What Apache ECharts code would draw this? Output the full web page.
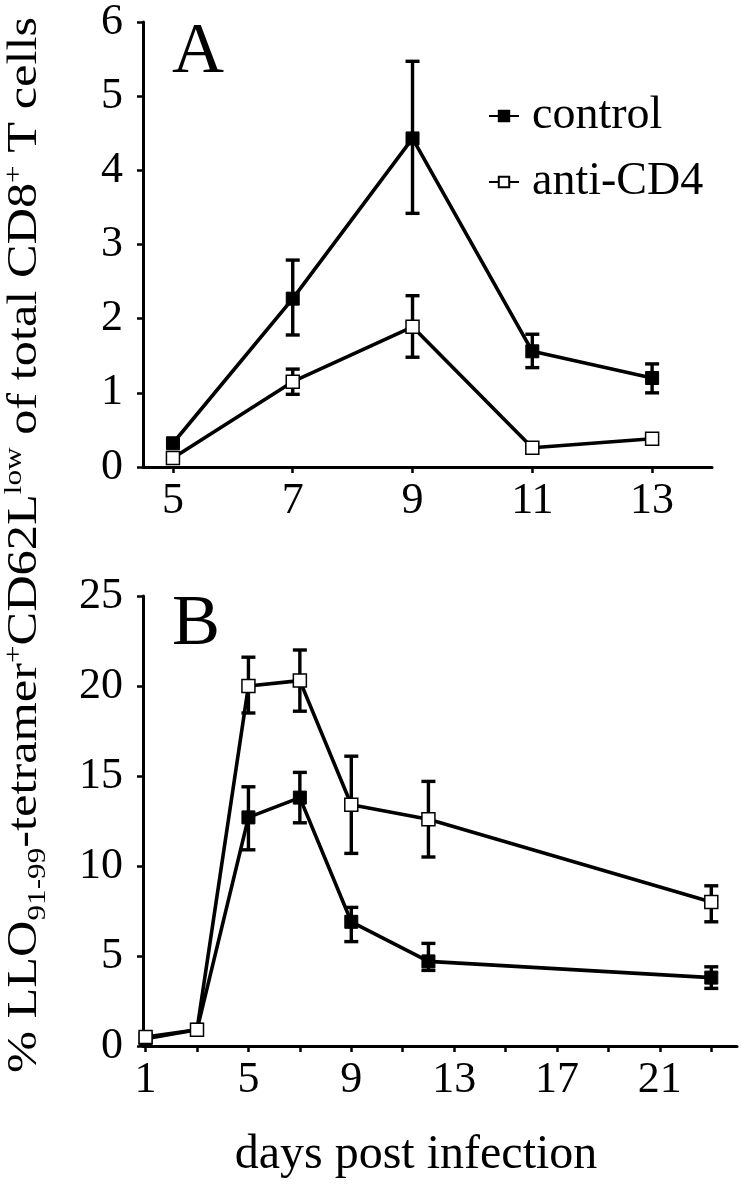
<!DOCTYPE html>
<html>
<head>
<meta charset="utf-8">
<script src="https://cdn.jsdelivr.net/npm/echarts@6/dist/echarts.min.js"></script>
<style>
html,body{margin:0;padding:0;background:#fff;}
#chart{width:742px;height:1200px;}
</style>
</head>
<body>
<div id="chart"></div>
<script>
// ---------- Panel A data ----------
const daysA = [5, 7, 9, 11, 13];
const controlA = [0.32, 2.27, 4.43, 1.56, 1.20];
const controlA_low = [0.32, 1.78, 3.42, 1.34, 1.00];
const controlA_high = [0.32, 2.79, 5.47, 1.79, 1.39];
const antiA = [0.12, 1.15, 1.89, 0.26, 0.38];
const antiA_low = [0.12, 0.98, 1.48, 0.26, 0.38];
const antiA_high = [0.12, 1.32, 2.31, 0.26, 0.38];
const xTicksA = [5, 7, 9, 11, 13];

// ---------- Panel B data ----------
const daysB = [1, 3, 5, 7, 9, 12, 23];
const controlB = [0.4, 0.9, 12.7, 13.8, 6.9, 4.7, 3.8];
const controlB_low = [0.4, 0.9, 10.9, 12.4, 5.8, 4.2, 3.2];
const controlB_high = [0.4, 0.9, 14.4, 15.2, 7.7, 5.7, 4.4];
const antiB = [0.5, 0.9, 20.0, 20.3, 13.4, 12.6, 8.0];
const antiB_low = [0.5, 0.9, 18.5, 18.6, 10.7, 10.5, 6.9];
const antiB_high = [0.5, 0.9, 21.6, 22.0, 16.1, 14.7, 8.9];
const xTicksB = [1, 3, 5, 7, 9, 11, 13, 15, 17, 19, 21, 23];
const xLabelsB = [1, 5, 9, 13, 17, 21];

const seriesNames = ['control', 'anti-CD4'];
const xTitle = 'days post infection';
const panelLetters = ['A', 'B'];

const FONT = '"Liberation Serif", "Times New Roman", serif';

function pairs(x, y) { return x.map((d, i) => [d, y[i]]); }
function triples(x, lo, hi) { return x.map((d, i) => [d, lo[i], hi[i]]); }

function errRender(params, api) {
  const x = api.value(0), lo = api.value(1), hi = api.value(2);
  if (hi - lo < 1e-9) return null;
  const p1 = api.coord([x, lo]), p2 = api.coord([x, hi]);
  const w = 7;
  const st = { stroke: '#000', lineWidth: 3.4 };
  return {
    type: 'group',
    children: [
      { type: 'line', shape: { x1: p1[0], y1: p1[1], x2: p2[0], y2: p2[1] }, style: st },
      { type: 'line', shape: { x1: p1[0] - w, y1: p1[1], x2: p1[0] + w, y2: p1[1] }, style: st },
      { type: 'line', shape: { x1: p2[0] - w, y1: p2[1], x2: p2[0] + w, y2: p2[1] }, style: st }
    ]
  };
}

const axisLine = { show: true, lineStyle: { color: '#000', width: 3 } };
const labelStyle = { color: '#000', fontFamily: FONT, fontSize: 44 };

function lineSeries(name, data, idx, filled) {
  return {
    name: name, type: 'line', data: data,
    xAxisIndex: idx, yAxisIndex: idx,
    symbol: 'rect', symbolSize: 13, showSymbol: true,
    lineStyle: { color: '#000', width: 3.6 },
    itemStyle: filled ? { color: '#000', borderColor: '#000', borderWidth: 1 }
                      : { color: '#fff', borderColor: '#000', borderWidth: 1.5 },
    emphasis: { disabled: true },
    animation: false, z: 3
  };
}
function errSeries(data, idx) {
  return {
    type: 'custom', data: data, xAxisIndex: idx, yAxisIndex: idx,
    renderItem: errRender, animation: false, z: 2, silent: true
  };
}

const chart = echarts.init(document.getElementById('chart'));
chart.setOption({
  backgroundColor: '#fff',
  animation: false,
  grid: [
    { left: 143, right: 30, top: 16, height: 451 },
    { left: 143, right: 5, top: 596, height: 450 }
  ],
  xAxis: [
    {
      type: 'value', gridIndex: 0, min: 4.5, max: 14,
      axisLine: axisLine,
      axisTick: { show: true, inside: false, length: 6, lineStyle: { color: '#000', width: 2.5 }, customValues: xTicksA },
      axisLabel: Object.assign({ margin: 12, customValues: xTicksA }, labelStyle),
      splitLine: { show: false }
    },
    {
      type: 'value', gridIndex: 1, min: 0.9, max: 24,
      axisLine: axisLine,
      axisTick: { show: true, length: 6, lineStyle: { color: '#000', width: 2.5 }, customValues: xTicksB },
      axisLabel: Object.assign({ margin: 12, customValues: xLabelsB }, labelStyle),
      splitLine: { show: false }
    }
  ],
  yAxis: [
    {
      type: 'value', gridIndex: 0, min: 0, max: 6, interval: 1,
      axisLine: axisLine,
      axisTick: { show: true, length: 6, lineStyle: { color: '#000', width: 2.5 } },
      axisLabel: Object.assign({ margin: 20 }, labelStyle),
      splitLine: { show: false }
    },
    {
      type: 'value', gridIndex: 1, min: 0, max: 25, interval: 5,
      axisLine: axisLine,
      axisTick: { show: true, length: 6, lineStyle: { color: '#000', width: 2.5 } },
      axisLabel: Object.assign({ margin: 20 }, labelStyle),
      splitLine: { show: false }
    }
  ],
  legend: {
    data: seriesNames,
    orient: 'vertical',
    left: 483, top: 88,
    itemWidth: 30, itemHeight: 13, itemGap: 20,
    textStyle: { color: '#000', fontFamily: FONT, fontSize: 46, padding: [0, 0, 0, 8] },
    selectedMode: false
  },
  graphic: [
    {
      type: 'text', x: 172, y: 53,
      style: { text: panelLetters[0], fontFamily: FONT, fontSize: 72, fill: '#000', verticalAlign: 'middle', align: 'left' }
    },
    {
      type: 'text', x: 172, y: 625,
      style: { text: panelLetters[1], fontFamily: FONT, fontSize: 72, fill: '#000', verticalAlign: 'middle', align: 'left' }
    },
    {
      type: 'text', x: 416, y: 1155,
      style: { text: xTitle, fontFamily: FONT, fontSize: 48, fill: '#000', align: 'center', verticalAlign: 'middle' }
    },
    {
      type: 'text', x: 25, y: 545, rotation: Math.PI / 2, scaleX: 1.2,
      style: {
        text: '{n|% LLO}{sub|91-99}{n|-tetramer}{sup|+}{n|CD62L}{sup|low}{n| of total CD8}{sup|+}{n| T cells}',
        align: 'center', verticalAlign: 'middle',
        rich: {
          n: { fontFamily: FONT, fontSize: 42, fill: '#000', lineHeight: 60, verticalAlign: 'middle' },
          sub: { fontFamily: FONT, fontSize: 26, fill: '#000', lineHeight: 60, verticalAlign: 'bottom', padding: [0, 0, 4, 0] },
          sup: { fontFamily: FONT, fontSize: 26, fill: '#000', lineHeight: 60, verticalAlign: 'top', padding: [6, 0, 0, 0] }
        }
      }
    }
  ],
  series: [
    errSeries(triples(daysA, controlA_low, controlA_high), 0),
    errSeries(triples(daysA, antiA_low, antiA_high), 0),
    lineSeries(seriesNames[0], pairs(daysA, controlA), 0, true),
    lineSeries(seriesNames[1], pairs(daysA, antiA), 0, false),
    errSeries(triples(daysB, controlB_low, controlB_high), 1),
    errSeries(triples(daysB, antiB_low, antiB_high), 1),
    lineSeries(seriesNames[0], pairs(daysB, controlB), 1, true),
    lineSeries(seriesNames[1], pairs(daysB, antiB), 1, false)
  ]
});
</script>
</body>
</html>
